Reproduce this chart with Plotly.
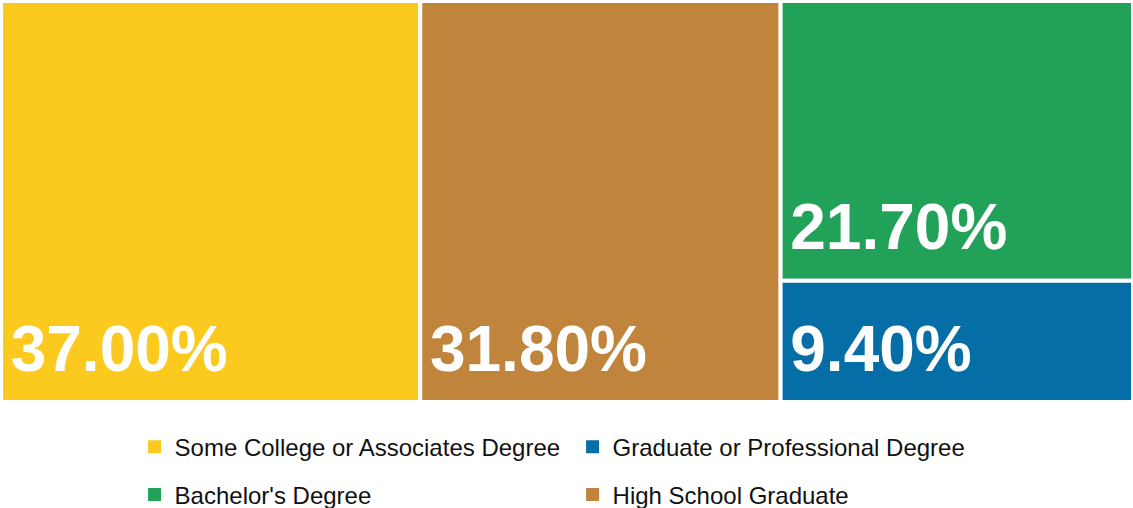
import plotly.graph_objects as go

# Educational attainment shares (%)
categories = [
    "Some College or Associates Degree",
    "High School Graduate",
    "Bachelor's Degree",
    "Graduate or Professional Degree",
]
shares = [37.0, 31.8, 21.7, 9.4]
colors = ["#FCCA1F", "#C0843D", "#22A259", "#056EA7"]

# Legend rows: first row and second row entries
legend_row1 = ["Some College or Associates Degree", "Graduate or Professional Degree"]
legend_row2 = ["Bachelor's Degree", "High School Graduate"]

color_of = dict(zip(categories, colors))

fig = go.Figure()

# small leading spacer and a lowered trailing spacer keep the label off the tile edges
label_template = ("<span style='font-size:24px'>\u00a0</span>"
                  "%{value:.2f}%"
                  "<sub><span style='font-size:72px'>\u00a0</span></sub>")

fig.add_trace(go.Treemap(
    labels=categories,
    parents=[""] * len(categories),
    values=shares,
    marker=dict(colors=colors, line=dict(color="white", width=4),
                pad=dict(t=0, l=0, r=0, b=0)),
    pathbar=dict(visible=False),
    texttemplate=label_template,
    textposition="bottom left",
    textfont=dict(family="Liberation Sans", size=64, color="white", weight="bold"),
    hoverinfo="none",
    sort=True,
    tiling=dict(packing="squarify", pad=0),
    domain=dict(x=[0, 1], y=[0.053, 1]),
))

for name in legend_row1:
    fig.add_trace(go.Scatter(
        x=[None], y=[None], mode="markers", name=name,
        marker=dict(symbol="square", size=13, color=color_of[name]),
        legend="legend",
    ))
for name in legend_row2:
    fig.add_trace(go.Scatter(
        x=[None], y=[None], mode="markers", name=name,
        marker=dict(symbol="square", size=13, color=color_of[name]),
        legend="legend2",
    ))

legend_style = dict(
    orientation="h",
    xanchor="left",
    yanchor="middle",
    yref="container",
    entrywidth=393,
    entrywidthmode="pixels",
    font=dict(family="Liberation Sans", size=24, color="#111111"),
    bgcolor="rgba(0,0,0,0)",
    traceorder="normal",
)

fig.update_layout(
    width=1133,
    height=508,
    margin=dict(l=1, r=0, t=1, b=0),
    paper_bgcolor="white",
    plot_bgcolor="white",
    hovermode=False,
    xaxis=dict(visible=False),
    yaxis=dict(visible=False),
    legend=dict(x=0.118, y=0.120, **legend_style),
    legend2=dict(x=0.118, y=0.026, **legend_style),
)

fig.write_html("out.html")
